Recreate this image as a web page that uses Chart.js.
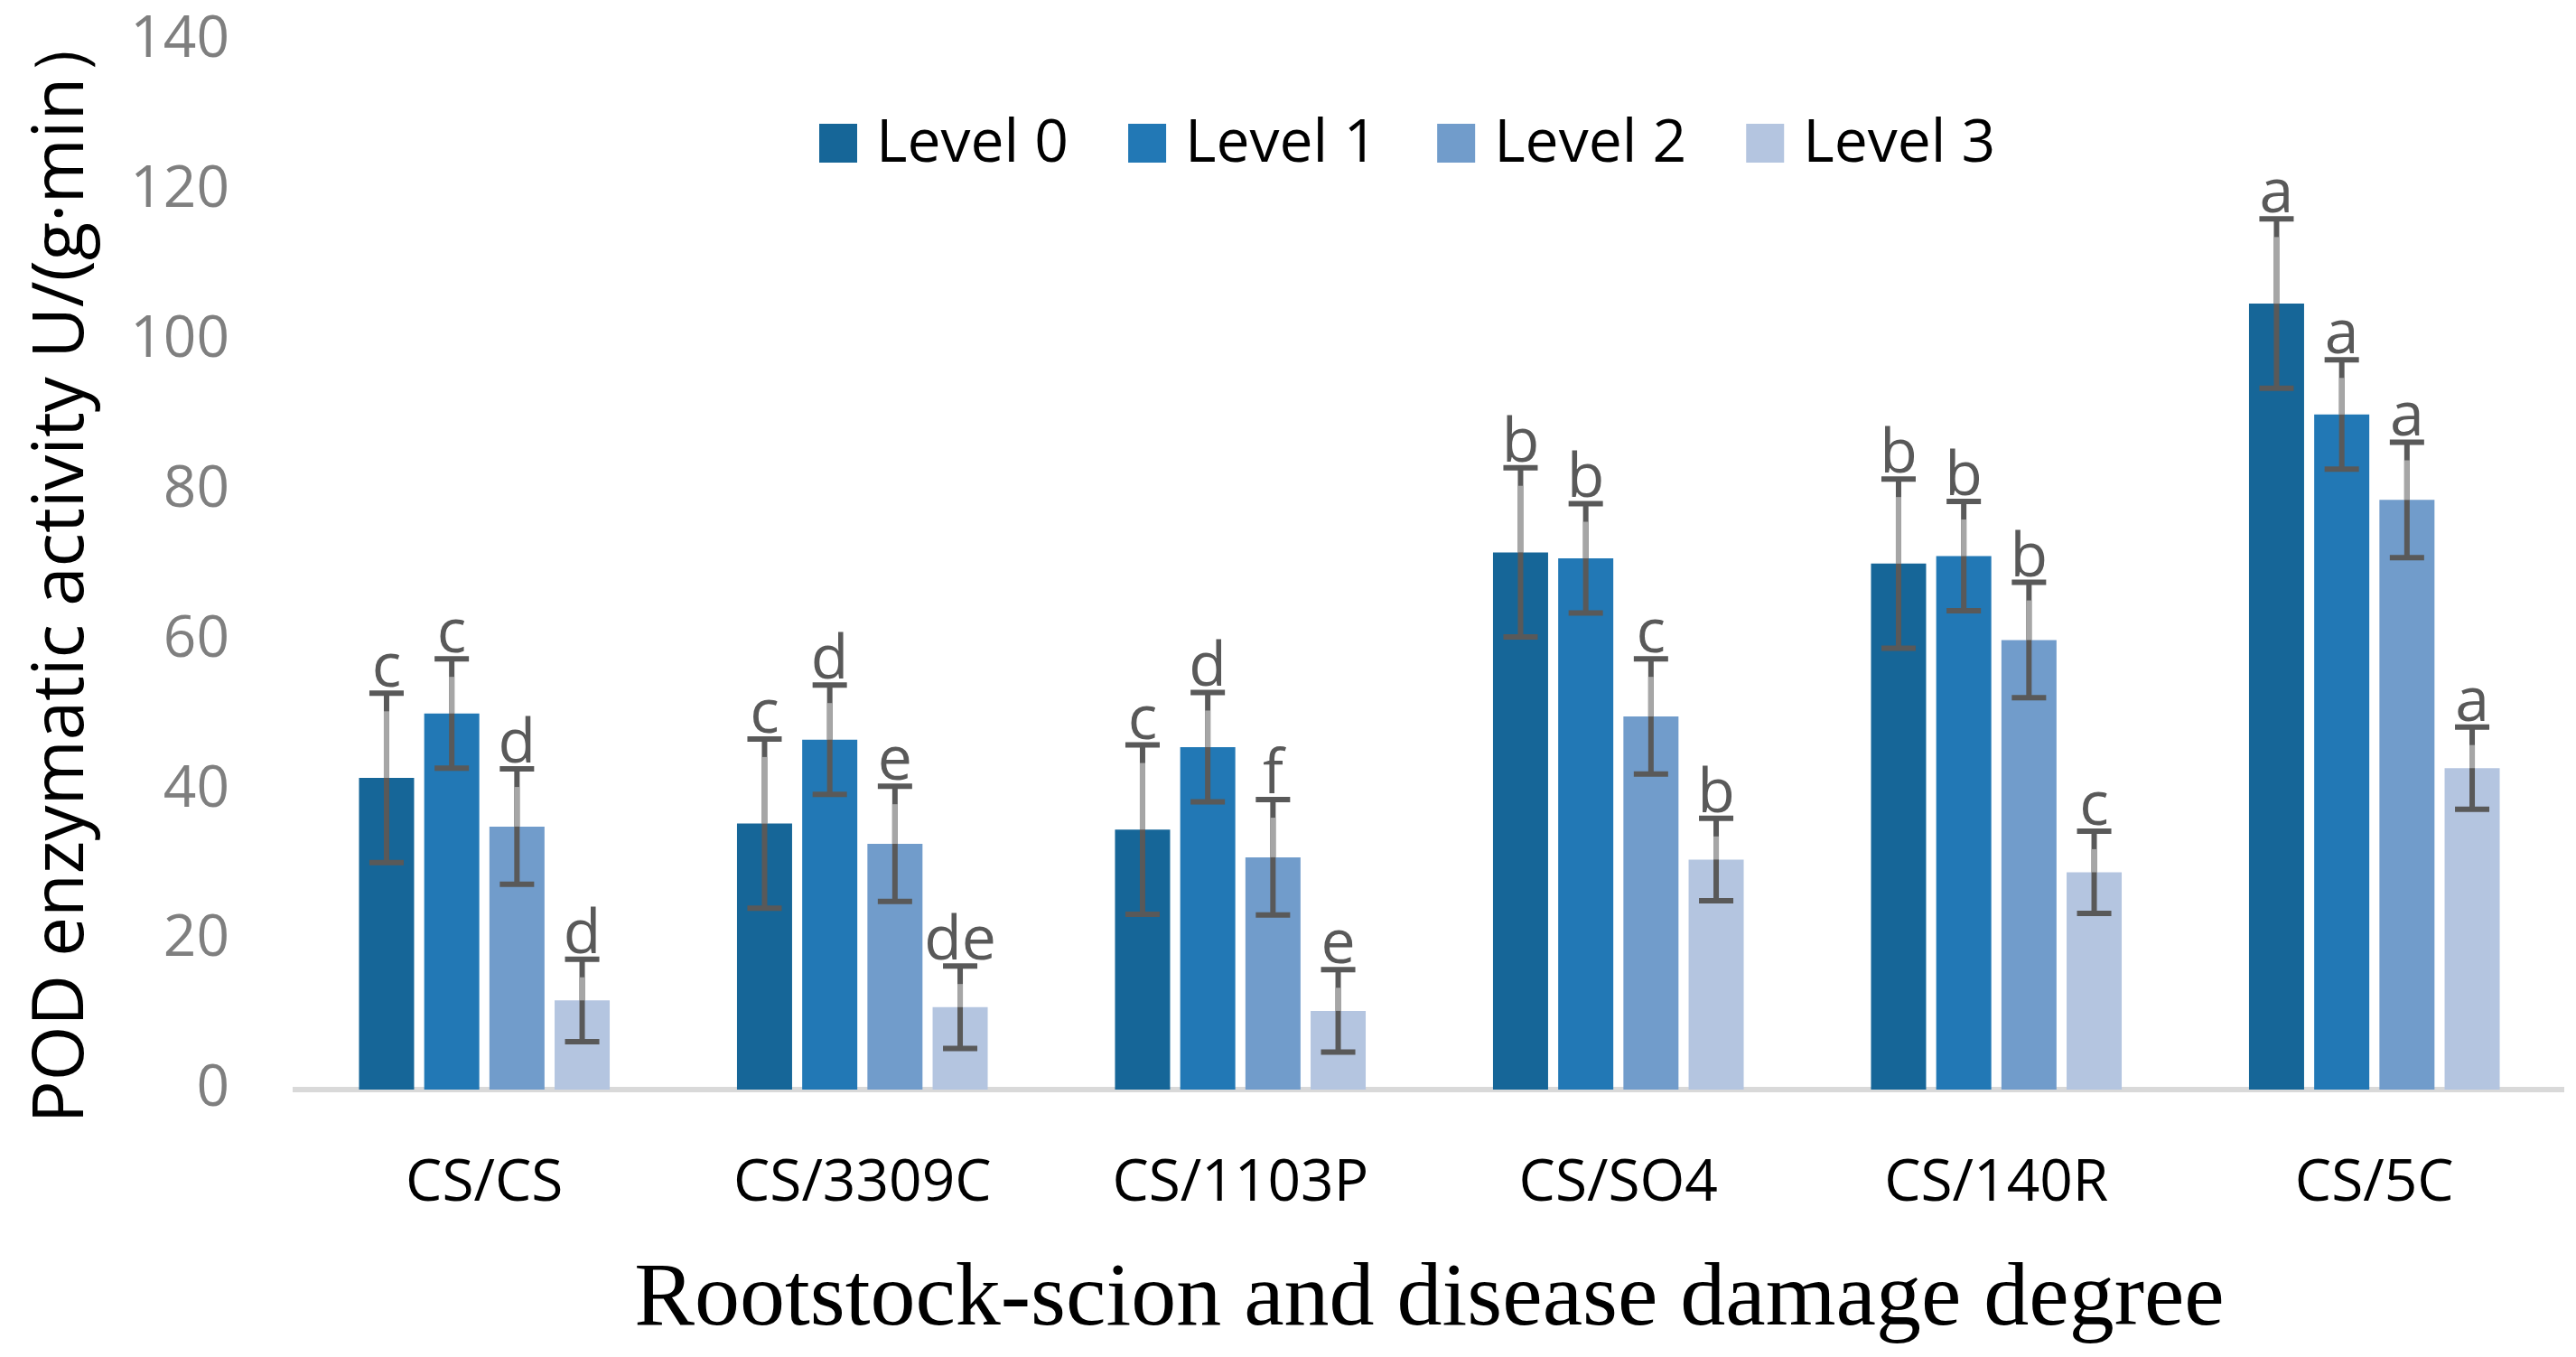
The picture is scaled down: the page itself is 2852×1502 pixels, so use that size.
<!DOCTYPE html>
<html>
<head>
<meta charset="utf-8">
<script src="https://cdn.jsdelivr.net/npm/chart.js@4"></script>
<style>
  body { margin: 0; background: #fff; }
  #wrap { width: 2852px; height: 1502px; }
</style>
</head>
<body>
<div id="wrap"><canvas id="myChart" width="2852" height="1502"></canvas></div>
<script>
// data
var categories = ['CS/CS', 'CS/3309C', 'CS/1103P', 'CS/SO4', 'CS/140R', 'CS/5C'];
var seriesNames = ['Level 0', 'Level 1', 'Level 2', 'Level 3'];
var level0 = [41.6, 35.5, 34.7, 71.7, 70.2, 104.9];
var level1 = [50.2, 46.7, 45.7, 70.9, 71.2, 90.1];
var level2 = [35.1, 32.8, 31.0, 49.8, 60.0, 78.7];
var level3 = [11.9, 11.0, 10.5, 30.7, 29.0, 42.9];
var err0 = [11.3, 11.3, 11.3, 11.3, 11.3, 11.3];
var err1 = [7.3, 7.3, 7.3, 7.3, 7.3, 7.3];
var err2 = [7.7, 7.7, 7.7, 7.7, 7.7, 7.7];
var err3 = [5.5, 5.5, 5.5, 5.5, 5.5, 5.5];
var letters0 = ['c', 'c', 'c', 'b', 'b', 'a'];
var letters1 = ['c', 'd', 'd', 'b', 'b', 'a'];
var letters2 = ['d', 'e', 'f', 'c', 'b', 'a'];
var letters3 = ['d', 'de', 'e', 'b', 'c', 'a'];
var yTicks = [0, 20, 40, 60, 80, 100, 120, 140];

var colors = ['#166698', '#2278b5', '#719ccb', '#b4c5e0'];
var allValues = [level0, level1, level2, level3];
var allErrors = [err0, err1, err2, err3];
var allLetters = [letters0, letters1, letters2, letters3];

var sans = "'Open Sans', sans-serif";

// error bars + significance letters
var errorBars = {
  id: 'errorBars',
  afterDatasetsDraw: function(chart) {
    var ctx = chart.ctx;
    var yScale = chart.scales.y;
    ctx.save();
    chart.data.datasets.forEach(function(ds, i) {
      var meta = chart.getDatasetMeta(i);
      meta.data.forEach(function(bar, j) {
        var v = ds.data[j];
        var e = allErrors[i][j];
        var top = yScale.getPixelForValue(v + e);
        var bot = yScale.getPixelForValue(v - e);
        var x = bar.x;
        ctx.lineWidth = 6;
        ctx.strokeStyle = '#595959';
        ctx.beginPath();
        ctx.moveTo(x, top); ctx.lineTo(x, bot);
        ctx.moveTo(x - 19, top); ctx.lineTo(x + 19, top);
        ctx.moveTo(x - 19, bot); ctx.lineTo(x + 19, bot);
        ctx.stroke();
        // lighter part of the whisker above the bar
        if (bar.y - top > 24) {
          ctx.strokeStyle = '#a6a6a6';
          ctx.beginPath();
          ctx.moveTo(x, top + 20); ctx.lineTo(x, bar.y);
          ctx.stroke();
        }
        ctx.fillStyle = '#595959';
        ctx.font = '68px ' + sans;
        ctx.textAlign = 'center';
        ctx.textBaseline = 'alphabetic';
        ctx.fillText(allLetters[i][j], x, top - 7);
      });
    });
    ctx.restore();
  }
};

// legend drawn inside the plot, like the original
var insideLegend = {
  id: 'insideLegend',
  afterDraw: function(chart) {
    var ctx = chart.ctx;
    ctx.save();
    ctx.font = '66px ' + sans;
    ctx.textBaseline = 'middle';
    ctx.textAlign = 'left';
    var x = 907;
    chart.data.datasets.forEach(function(ds) {
      ctx.fillStyle = ds.backgroundColor;
      ctx.fillRect(x, 137, 42, 43);
      ctx.fillStyle = '#000';
      ctx.fillText(ds.label, x + 63, 160);
      x += 63 + ctx.measureText(ds.label).width + 66;
    });
    ctx.restore();
  }
};

var ctx = document.getElementById('myChart').getContext('2d');

var myChart = new Chart(ctx, {
  type: 'bar',
  data: {
    labels: categories,
    datasets: seriesNames.map(function(name, i) {
      return {
        label: name,
        data: allValues[i],
        backgroundColor: colors[i],
        borderWidth: 0,
        categoryPercentage: 0.69,
        barPercentage: 0.845
      };
    })
  },
  options: {
    responsive: false,
    animation: false,
    devicePixelRatio: 1,
    layout: { padding: { top: 45, right: 14, left: 0, bottom: 0 } },
    plugins: {
      legend: { display: false },
      tooltip: { enabled: false }
    },
    scales: {
      x: {
        grid: { display: false, drawTicks: false },
        border: { display: true, color: '#d9d9d9', width: 6 },
        ticks: { color: '#000', font: { family: sans, size: 64 }, padding: 66 },
        title: {
          display: true,
          text: 'Rootstock-scion and disease damage degree',
          color: '#000',
          font: { family: "'Liberation Serif', 'Times New Roman', serif", size: 100 },
          padding: { top: 0, bottom: 2 }
        },
        afterFit: function(scale) { scale.height = 296; }
      },
      y: {
        min: 0,
        max: 140,
        afterBuildTicks: function(scale) {
          scale.ticks = yTicks.map(function(v) { return { value: v }; });
        },
        grid: { display: false, drawTicks: false },
        border: { display: false },
        ticks: { color: '#7f7f7f', font: { family: sans, size: 64 }, padding: 73 },
        title: {
          display: true,
          text: 'POD enzymatic activity U/(g·min）',
          color: '#000',
          font: { family: sans, size: 78 },
          padding: { top: 23, bottom: 0 }
        },
        afterFit: function(scale) {
          scale.width = 327;
          // tick padding would otherwise push the plot top down
          scale.paddingTop = 0;
          scale.paddingBottom = 0;
        }
      }
    }
  },
  plugins: [errorBars, insideLegend]
});
</script>
</body>
</html>
